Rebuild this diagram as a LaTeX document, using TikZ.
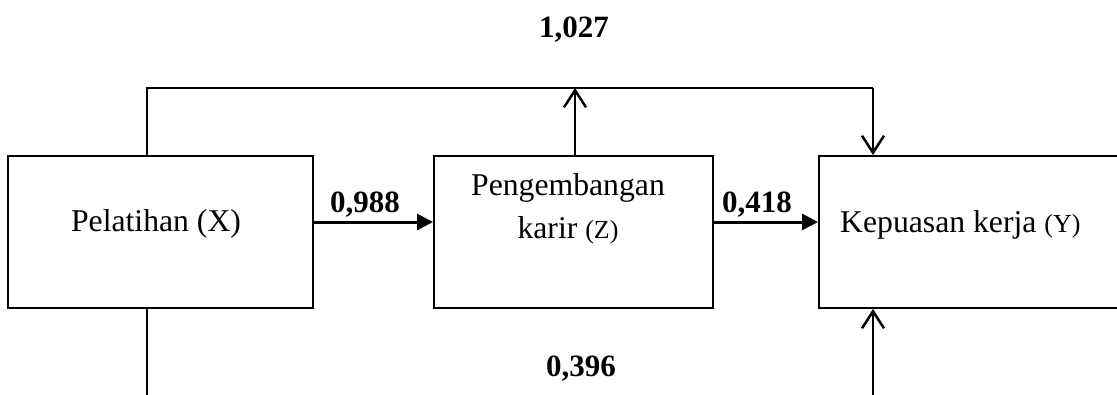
\documentclass[tikz,border=0pt]{standalone}
\usepackage{fontspec}
\setmainfont{Liberation Serif}
\usetikzlibrary{arrows.meta}

\tikzset{
  varbox/.style={draw, line width=2pt, inner sep=0pt, minimum height=152pt},
  vartext/.style={inner sep=0pt, anchor=base, font=\fontsize{31.7}{38}\selectfont},
  coef/.style={inner sep=0pt, anchor=base, font=\fontsize{31}{36}\selectfont\bfseries},
  link/.style={line width=2.5pt},
  solidarrow/.style={line width=3pt, -{Triangle[length=16pt,width=16pt]}},
  openarrow/.style={line width=2.5pt, -{Straight Barb[length=17pt,width=22pt,line width=2.5pt]}}
}

\begin{document}
\begin{tikzpicture}[x=1pt,y=-1pt]
  \useasboundingbox (0,0) rectangle (1117,394);
  \clip (0,0) rectangle (1117,394);

  % variable boxes
  \node[varbox, minimum width=305pt] (X) at (160.5,232) {};
  \node[varbox, minimum width=279pt] (Z) at (573.5,232) {};
  \node[varbox, minimum width=304pt] (Y) at (971,232) {};

  % box captions
  \node[vartext] (xt) at (156,231) {Pelatihan (X)};
  \node[vartext] (zt1) at (568,195) {Pengembangan};
  \node[vartext] (zt2) at (568,238) {karir {\fontsize{26}{30}\selectfont(Z)}};
  \node[vartext, anchor=base west] (yt) at (840,232) {Kepuasan kerja {\fontsize{26}{30}\selectfont(Y)}};

  % routing points
  \coordinate (ta) at (147,88);
  \coordinate (tz) at (575,88);
  \coordinate (tb) at (873,88);
  \coordinate (ba) at (147,396);
  \coordinate (bb) at (873,396);

  % direct paths
  \draw[solidarrow] ([yshift=10pt]X.east) -- ([yshift=10pt]Z.west);
  \draw[solidarrow] ([yshift=10pt]Z.east) -- ([yshift=10pt]Y.west);

  % upper bracket
  \draw[link] (X.north -| ta) -- (ta) -- (tb);
  \draw[openarrow] (tb) -- (tb |- Y.north);
  \draw[openarrow] (Z.north -| tz) -- (tz);

  % lower bracket
  \draw[link] (X.south -| ba) -- (ba);
  \draw[openarrow] (bb) -- (bb |- Y.south);

  % coefficients
  \node[coef] (c1) at (365,212) {0,988};
  \node[coef] (c2) at (757,212) {0,418};
  \node[coef] (c3) at (574,37) {1,027};
  \node[coef] (c4) at (581,376) {0,396};
\end{tikzpicture}
\end{document}
